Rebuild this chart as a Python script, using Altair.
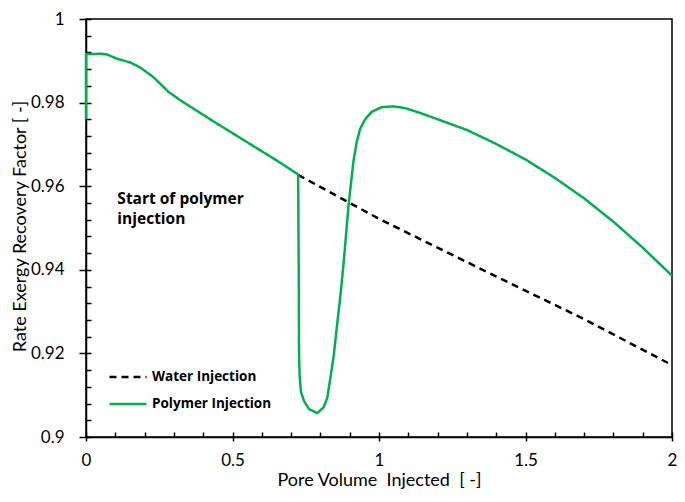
import altair as alt
import pandas as pd

# ---- data ----
series_names = ["Water Injection", "Polymer Injection"]

poly_x = [0.0, 0.0, 0.02, 0.05, 0.072, 0.106, 0.151, 0.185, 0.23, 0.281, 0.321,
          0.433, 0.546, 0.659, 0.724, 0.7265, 0.727, 0.729, 0.7335, 0.744, 0.761,
          0.789, 0.811, 0.8236, 0.834, 0.8458, 0.8565, 0.868, 0.879, 0.896,
          0.9126, 0.924, 0.9356, 0.9526, 0.975, 1.009, 1.048, 1.088, 1.133,
          1.201, 1.302, 1.4, 1.5, 1.6, 1.7, 1.8, 1.9, 2.0]
poly_y = [0.976, 0.9916, 0.9916, 0.9917, 0.9915, 0.9905, 0.9896, 0.9884, 0.9861,
          0.9826, 0.9806, 0.9756, 0.9707, 0.9658, 0.9628, 0.935, 0.92, 0.9148,
          0.9109, 0.9086, 0.9067, 0.9057, 0.9071, 0.9094, 0.9141, 0.9196,
          0.9266, 0.9336, 0.9414, 0.9554, 0.9659, 0.9706, 0.9737, 0.976, 0.9778,
          0.9789, 0.9791, 0.9787, 0.9777, 0.976, 0.9734, 0.9701, 0.9664, 0.962,
          0.9571, 0.9515, 0.9453, 0.9386]

water_x = [0.724, 1.0, 1.336, 1.7, 2.0]
water_y = [0.9627, 0.9522, 0.9406, 0.9282, 0.9172]

x_ticks = [0, 0.5, 1, 1.5, 2]
x_minor = [0, 0.1, 0.2, 0.3, 0.4, 0.5, 0.6, 0.7, 0.8, 0.9, 1.0, 1.1, 1.2, 1.3,
           1.4, 1.5, 1.6, 1.7, 1.8, 1.9, 2.0]
y_ticks = [0.9, 0.92, 0.94, 0.96, 0.98, 1.0]
y_minor = [0.9, 0.904, 0.908, 0.912, 0.916, 0.92, 0.924, 0.928, 0.932, 0.936,
           0.94, 0.944, 0.948, 0.952, 0.956, 0.96, 0.964, 0.968, 0.972, 0.976,
           0.98, 0.984, 0.988, 0.992, 0.996, 1.0]

ann_text = ["Start of polymer\ninjection"]
ann_x = [0.107]
ann_y = [0.9558]

x_title = "Pore Volume\u00a0 Injected\u00a0 [ -]"
y_title = "Rate Exergy Recovery Factor [ -]"

# ---- tables ----
rows = []
for i, (xv, yv) in enumerate(zip(water_x, water_y)):
    rows.append({"series": series_names[0], "x": xv, "y": yv, "idx": i})
for i, (xv, yv) in enumerate(zip(poly_x, poly_y)):
    rows.append({"series": series_names[1], "x": xv, "y": yv, "idx": i})
df = pd.DataFrame(rows)
ann = pd.DataFrame({"text": ann_text, "x": ann_x, "y": ann_y})

FONT = "Lato"
BFONT = "Open Sans"
xscale = alt.Scale(domain=[0, 2], nice=False, zero=False)
yscale = alt.Scale(domain=[0.9, 1.0], nice=False, zero=False)

legend = alt.Legend(
    title=None, orient="none", legendX=22, legendY=338, padding=0,
    symbolType="stroke", symbolSize=1369, symbolStrokeWidth=2.5,
    labelFont=BFONT, labelFontSize=13.5, labelFontWeight="bold",
    labelColor="black", labelOffset=4, rowPadding=0,
)

main_x_axis = alt.Axis(
    orient="bottom", values=x_ticks, format="~g", tickSize=4, tickWidth=1.5,
    tickColor="black", domainColor="black", domainWidth=1.5, grid=False,
    labelFont=FONT, labelFontSize=17, labelColor="black", labelPadding=11,
    labelFlush=False, title=x_title, titleFont=FONT, titleFontSize=18,
    titleFontWeight="normal", titleColor="black", titleX=293, titleY=48,
    titleBaseline="alphabetic",
)
main_y_axis = alt.Axis(
    orient="left", values=y_ticks, format="~g", tickSize=7, tickWidth=1.5,
    tickColor="black", domainColor="black", domainWidth=1.5, grid=False,
    labelFont=FONT, labelFontSize=17, labelColor="black", labelPadding=15,
    labelFlush=False, title=y_title, titleFont=FONT, titleFontSize=18,
    titleFontWeight="normal", titleColor="black", titleX=-66, titleY=207,
    titleAngle=-90, titleAlign="center", titleBaseline="middle",
)
minor_x_axis = alt.Axis(
    orient="bottom", values=x_minor, offset=-5, tickSize=5, tickWidth=1.5,
    tickColor="black", domain=False, labels=False, grid=False, title=None,
)
minor_y_axis = alt.Axis(
    orient="left", values=y_minor, offset=-5, tickSize=5, tickWidth=1.5,
    tickColor="black", domain=False, labels=False, grid=False, title=None,
)

minor = alt.Chart(df).mark_point(opacity=0).encode(
    x=alt.X("x:Q", scale=xscale, axis=minor_x_axis),
    y=alt.Y("y:Q", scale=yscale, axis=minor_y_axis),
)

lines = alt.Chart(df).mark_line(strokeWidth=2.5, strokeCap="butt", strokeJoin="round").encode(
    x=alt.X("x:Q", scale=xscale, axis=main_x_axis),
    y=alt.Y("y:Q", scale=yscale, axis=main_y_axis),
    color=alt.Color("series:N", scale=alt.Scale(domain=series_names, range=["black", "#00B050"]), legend=legend),
    strokeDash=alt.StrokeDash("series:N", scale=alt.Scale(domain=series_names, range=[[7, 5], [1, 0]]), legend=legend),
    order="idx:Q",
)

text = alt.Chart(ann).mark_text(
    align="left", baseline="alphabetic", font=BFONT, fontSize=15.5,
    fontWeight="bold", color="black", lineBreak="\n", lineHeight=20,
).encode(
    x=alt.X("x:Q", scale=xscale, axis=None),
    y=alt.Y("y:Q", scale=yscale, axis=None),
    text="text:N",
)

chart = alt.layer(minor, lines, text).resolve_axis(
    x="independent", y="independent"
).properties(
    width=586, height=418,
    padding={"left": 78, "top": 11, "right": 5, "bottom": 53},
    autosize=alt.AutoSizeParams(type="none"),
).configure_view(stroke="black", strokeWidth=1.5)

chart.save("out.html", embed_options={"renderer": "svg", "actions": False})
